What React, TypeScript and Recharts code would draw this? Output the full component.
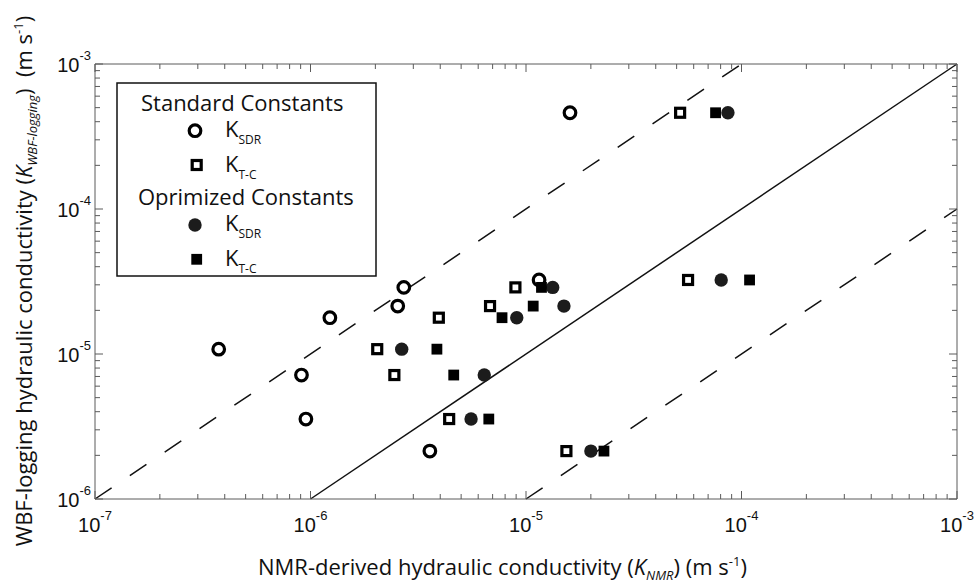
import React from 'react';
import { ScatterChart, Scatter, XAxis, YAxis, ReferenceLine, Customized } from 'recharts';

// WBF-logging hydraulic conductivity (m/s), one value per measured interval
const WBF_K = [4.61e-4, 3.24e-5, 2.88e-5, 2.14e-5, 1.78e-5, 1.08e-5, 7.16e-6, 3.56e-6, 2.14e-6];
// NMR-derived K, standard constants
const STD_SDR = [1.60e-5, 1.15e-5, 2.71e-6, 2.54e-6, 1.23e-6, 3.75e-7, 9.08e-7, 9.52e-7, 3.58e-6];
const STD_TC = [5.19e-5, 5.65e-5, 8.93e-6, 6.81e-6, 3.94e-6, 2.04e-6, 2.45e-6, 4.40e-6, 1.54e-5];
// NMR-derived K, optimized constants
const OPT_SDR = [8.65e-5, 8.05e-5, 1.33e-5, 1.50e-5, 9.06e-6, 2.65e-6, 6.40e-6, 5.56e-6, 2.00e-5];
const OPT_TC = [7.58e-5, 1.09e-4, 1.18e-5, 1.08e-5, 7.74e-6, 3.86e-6, 4.62e-6, 6.72e-6, 2.30e-5];

const X_DECADES = [1e-7, 1e-6, 1e-5, 1e-4, 1e-3];
const Y_DECADES = [1e-6, 1e-5, 1e-4, 1e-3];
const MINOR_MULT = [2, 3, 4, 5, 6, 7, 8, 9];

const ONE_TO_ONE = [{ x: 1e-6, y: 1e-6 }, { x: 1e-3, y: 1e-3 }];
const UPPER_X10 = [{ x: 1e-7, y: 1e-6 }, { x: 1e-4, y: 1e-3 }];
const LOWER_X10 = [{ x: 1e-5, y: 1e-6 }, { x: 1e-3, y: 1e-4 }];

const buildTicks = (decs: number[]) => {
  const t: number[] = [];
  decs.forEach((d, i) => {
    t.push(d);
    if (i < decs.length - 1) MINOR_MULT.forEach((m) => t.push(d * m));
  });
  return t;
};
const X_TICKS = buildTicks(X_DECADES);
const Y_TICKS = buildTicks(Y_DECADES);

const toPts = (xs: number[]) => xs.map((x, i) => ({ x, y: WBF_K[i] }));

const AXIS_COLOR = '#5a5a5a';
const TICK_FONT = '"Liberation Sans", Arial, sans-serif';
const TITLE_FONT = '"Open Sans", "Noto Sans", sans-serif';
const MAJOR = 8;
const MINOR = 5;

const isMajor = (v: number) => {
  const l = Math.log10(v);
  return Math.abs(l - Math.round(l)) < 1e-6;
};
const expOf = (v: number) => String(Math.round(Math.log10(v)));

const BottomTick = (p: any) => {
  const { x, y, payload } = p;
  const v = payload.value;
  const mj = isMajor(v);
  return (
    <g>
      <line x1={x} y1={y} x2={x} y2={y - (mj ? MAJOR : MINOR)} stroke={AXIS_COLOR} strokeWidth={1} />
      {mj && (
        <text x={x} y={y + 33} textAnchor="middle" fontFamily={TICK_FONT} fontSize={20} fill="#111">
          <tspan>10</tspan>
          <tspan dy={-12} fontSize={13}>{expOf(v)}</tspan>
        </text>
      )}
    </g>
  );
};
const TopTick = (p: any) => {
  const { x, y, payload } = p;
  const mj = isMajor(payload.value);
  return <line x1={x} y1={y} x2={x} y2={y + (mj ? MAJOR : MINOR)} stroke={AXIS_COLOR} strokeWidth={1} />;
};
const LeftTick = (p: any) => {
  const { x, y, payload } = p;
  const v = payload.value;
  const mj = isMajor(v);
  return (
    <g>
      <line x1={x} y1={y} x2={x + (mj ? MAJOR : MINOR)} y2={y} stroke={AXIS_COLOR} strokeWidth={1} />
      {mj && (
        <text x={x - 4} y={y + 8} textAnchor="end" fontFamily={TICK_FONT} fontSize={20} fill="#111">
          <tspan>10</tspan>
          <tspan dy={-12} fontSize={13}>{expOf(v)}</tspan>
        </text>
      )}
    </g>
  );
};
const RightTick = (p: any) => {
  const { x, y, payload } = p;
  const mj = isMajor(payload.value);
  return <line x1={x} y1={y} x2={x - (mj ? MAJOR : MINOR)} y2={y} stroke={AXIS_COLOR} strokeWidth={1} />;
};

const OpenCircle = (p: any) => <circle cx={p.cx} cy={p.cy} r={5.8} fill="none" stroke="#000" strokeWidth={3.2} />;
const OpenSquare = (p: any) => (
  <rect x={p.cx - 4.5} y={p.cy - 4.5} width={9} height={9} fill="none" stroke="#000" strokeWidth={3.2} />
);
const FilledCircle = (p: any) => <circle cx={p.cx} cy={p.cy} r={6.7} fill="#1c1c1c" />;
const FilledSquare = (p: any) => (
  <rect x={p.cx - 5.4} y={p.cy - 5.4} width={10.8} height={10.8} fill="#000" />
);

const LegendAndTitles = () => (
  <g>
    <rect x={117} y={83} width={259} height={193} fill="#fff" stroke="#111" strokeWidth={1.5} />
    <text x={141} y={110.5} fontFamily={TITLE_FONT} fontSize={22} fill="#111">Standard Constants</text>
    <OpenCircle cx={195} cy={130.7} />
    <text x={225} y={137} fontFamily={TITLE_FONT} fontSize={22} fill="#111">
      K<tspan fontSize={12} dy={7}>SDR</tspan>
    </text>
    <OpenSquare cx={196.7} cy={165} />
    <text x={225} y={171.5} fontFamily={TITLE_FONT} fontSize={22} fill="#111">
      K<tspan fontSize={12} dy={7}>T-C</tspan>
    </text>
    <text x={138} y={204.5} fontFamily={TITLE_FONT} fontSize={22} fill="#111">Oprimized Constants</text>
    <FilledCircle cx={195} cy={225} />
    <text x={225} y={231} fontFamily={TITLE_FONT} fontSize={22} fill="#111">
      K<tspan fontSize={12} dy={7}>SDR</tspan>
    </text>
    <FilledSquare cx={196.7} cy={259.3} />
    <text x={225} y={266} fontFamily={TITLE_FONT} fontSize={22} fill="#111">
      K<tspan fontSize={12} dy={7}>T-C</tspan>
    </text>

    <text x={258} y={575} fontFamily={TITLE_FONT} fontSize={22} fill="#111" xmlSpace="preserve">
      NMR-derived hydraulic conductivity (<tspan fontStyle="italic">K</tspan>
      <tspan fontStyle="italic" fontSize={13} dy={5}>NMR</tspan>
      <tspan dy={-5}>) (m s</tspan>
      <tspan fontSize={13} dy={-9}>-1</tspan>
      <tspan dy={9}>)</tspan>
    </text>

    <text transform="translate(32,281) rotate(-90)" textAnchor="middle" fontFamily={TITLE_FONT} fontSize={22} fill="#111" xmlSpace="preserve">
      WBF-logging hydraulic conductivity (<tspan fontStyle="italic">K</tspan>
      <tspan fontStyle="italic" fontSize={13} dy={5}>WBF-logging</tspan>
      <tspan dy={-5}>)  (m s</tspan>
      <tspan fontSize={13} dy={-9}>-1</tspan>
      <tspan dy={9}>)</tspan>
    </text>
  </g>
);

export default function App() {
  return (
    <div style={{ position: 'absolute', left: 0, top: 0, width: 977, height: 584, background: '#fff' }}>
      <ScatterChart width={977} height={584} margin={{ top: 63, right: 19, bottom: 84, left: 94 }}>
        <XAxis xAxisId="b" dataKey="x" type="number" scale="log" domain={[1e-7, 1e-3]} allowDataOverflow
          ticks={X_TICKS} interval={0} tickSize={0} tickMargin={0} height={1} tick={<BottomTick />}
          axisLine={{ stroke: AXIS_COLOR }} tickLine={false} />
        <XAxis xAxisId="t" orientation="top" dataKey="x" type="number" scale="log" domain={[1e-7, 1e-3]} allowDataOverflow
          ticks={X_TICKS} interval={0} tickSize={0} tickMargin={0} height={1} tick={<TopTick />}
          axisLine={{ stroke: AXIS_COLOR }} tickLine={false} />
        <YAxis yAxisId="l" dataKey="y" type="number" scale="log" domain={[1e-6, 1e-3]} allowDataOverflow
          ticks={Y_TICKS} interval={0} tickSize={0} tickMargin={0} width={1} tick={<LeftTick />}
          axisLine={{ stroke: AXIS_COLOR }} tickLine={false} />
        <YAxis yAxisId="r" orientation="right" dataKey="y" type="number" scale="log" domain={[1e-6, 1e-3]} allowDataOverflow
          ticks={Y_TICKS} interval={0} tickSize={0} tickMargin={0} width={1} tick={<RightTick />}
          axisLine={{ stroke: AXIS_COLOR }} tickLine={false} />

        <ReferenceLine xAxisId="b" yAxisId="l" segment={ONE_TO_ONE} stroke="#111" strokeWidth={1.5} ifOverflow="visible" />
        <ReferenceLine xAxisId="b" yAxisId="l" segment={UPPER_X10} stroke="#111" strokeWidth={1.5} strokeDasharray="20 22" ifOverflow="visible" />
        <ReferenceLine xAxisId="b" yAxisId="l" segment={LOWER_X10} stroke="#111" strokeWidth={1.5} strokeDasharray="20 22" ifOverflow="visible" />

        <Customized component={LegendAndTitles} />

        <Scatter xAxisId="b" yAxisId="l" data={toPts(STD_SDR)} shape={<OpenCircle />} isAnimationActive={false} />
        <Scatter xAxisId="b" yAxisId="l" data={toPts(STD_TC)} shape={<OpenSquare />} isAnimationActive={false} />
        <Scatter xAxisId="b" yAxisId="l" data={toPts(OPT_SDR)} shape={<FilledCircle />} isAnimationActive={false} />
        <Scatter xAxisId="b" yAxisId="l" data={toPts(OPT_TC)} shape={<FilledSquare />} isAnimationActive={false} />
      </ScatterChart>
    </div>
  );
}
